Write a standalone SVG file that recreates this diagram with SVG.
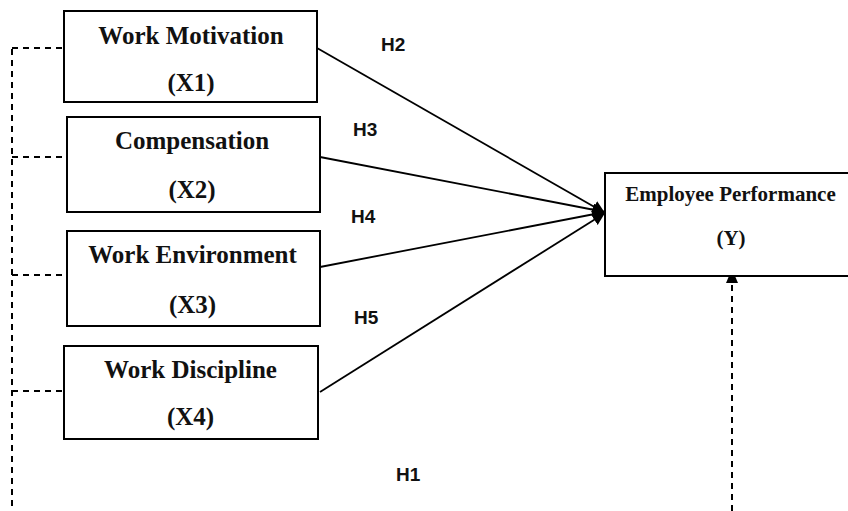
<svg xmlns="http://www.w3.org/2000/svg" width="848" height="511" viewBox="0 0 848 511">
<style>
.box{fill:#fff;stroke:#000;stroke-width:2}
.t{font-family:"Liberation Serif","Times New Roman",serif;font-weight:bold;font-size:25px;fill:#111;text-anchor:middle}
.ty{font-family:"Liberation Serif","Times New Roman",serif;font-weight:bold;font-size:21px;fill:#111;text-anchor:middle}
.h{font-family:"Liberation Sans",Arial,sans-serif;font-weight:bold;font-size:19px;fill:#111}
.ln{stroke:#000;stroke-width:1.8;fill:none}
.dash{stroke:#000;stroke-width:2;fill:none;stroke-dasharray:6 5}
</style>
<defs>
<marker id="arr" viewBox="0 0 10 10" refX="10" refY="5" markerWidth="7" markerHeight="7" orient="auto" markerUnits="strokeWidth">
<path d="M0,0 L10,5 L0,10 z" fill="#000"/>
</marker>
</defs>
<g id="connectors">
<line class="ln" x1="317" y1="48" x2="605" y2="213" marker-end="url(#arr)"/>
<line class="ln" x1="320" y1="157" x2="605" y2="212" marker-end="url(#arr)"/>
<line class="ln" x1="320" y1="267" x2="605" y2="212" marker-end="url(#arr)"/>
<line class="ln" x1="320" y1="392" x2="605" y2="213" marker-end="url(#arr)"/>
<line class="dash" x1="12" y1="49" x2="12" y2="511"/>
<line class="dash" x1="12" y1="48" x2="64" y2="48"/>
<line class="dash" x1="12" y1="157" x2="67" y2="157"/>
<line class="dash" x1="12" y1="275" x2="67" y2="275"/>
<line class="dash" x1="12" y1="391" x2="64" y2="391"/>
<line class="dash" x1="732" y1="511" x2="732" y2="283"/>
<path d="M732,269 L738,283 L726,283 z" fill="#000"/>
<text class="h" x="381" y="51">H2</text>
<text class="h" x="353" y="136">H3</text>
<text class="h" x="351" y="223">H4</text>
<text class="h" x="354" y="324">H5</text>
<text class="h" x="396" y="481">H1</text>
</g>
<g id="x1">
<rect class="box" x="64" y="11" width="253" height="91"/>
<text class="t" x="191" y="44">Work Motivation</text>
<text class="t" x="191" y="91">(X1)</text>
</g>
<g id="x2">
<rect class="box" x="67" y="117" width="253" height="95"/>
<text class="t" x="192" y="149">Compensation</text>
<text class="t" x="192" y="198">(X2)</text>
</g>
<g id="x3">
<rect class="box" x="67" y="231" width="253" height="95"/>
<text class="t" x="192.5" y="263">Work Environment</text>
<text class="t" x="192.5" y="313">(X3)</text>
</g>
<g id="x4">
<rect class="box" x="64" y="346" width="254" height="93"/>
<text class="t" x="190.5" y="378">Work Discipline</text>
<text class="t" x="190.5" y="425">(X4)</text>
</g>
<g id="y">
<rect class="box" x="605" y="173" width="260" height="103"/>
<text class="ty" x="730.5" y="201">Employee Performance</text>
<text class="ty" x="731" y="245">(Y)</text>
</g>
</svg>
